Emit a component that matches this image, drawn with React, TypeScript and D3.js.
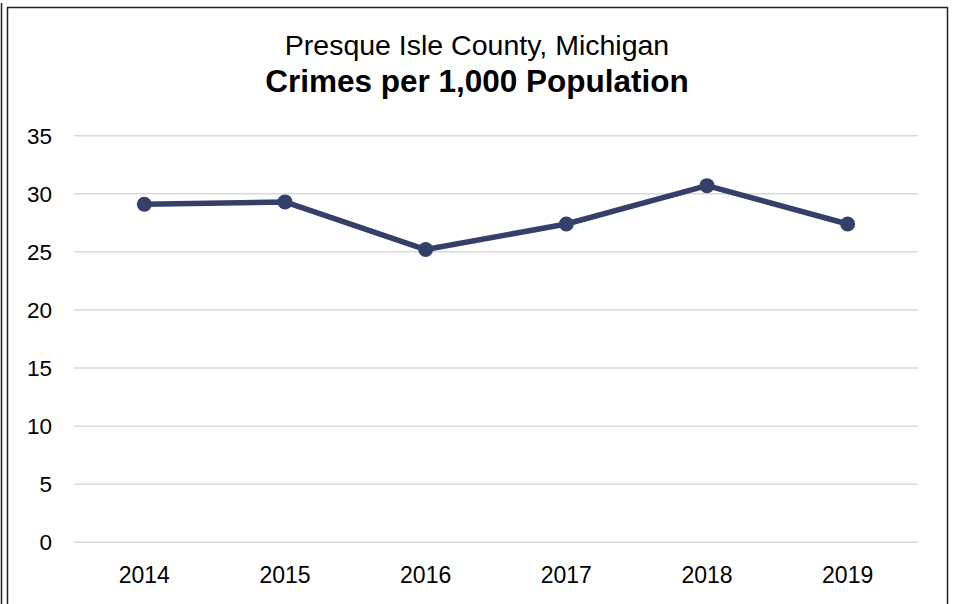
import React from "react";
import * as d3 from "d3";

const years = ["2014", "2015", "2016", "2017", "2018", "2019"];
const crimesPer1000 = [29.1, 29.3, 25.2, 27.4, 30.7, 27.4];
const yTicks = [0, 5, 10, 15, 20, 25, 30, 35];
const titleLine1 = "Presque Isle County, Michigan";
const titleLine2 = "Crimes per 1,000 Population";

const W = 955;
const H = 604;
const plot = { left: 74, right: 918, top: 135.7, bottom: 542.3 };
const lineColor = "#344069";
const font = "'Liberation Sans', Arial, sans-serif";

export default function App() {
  const x = d3.scaleBand<string>().domain(years).range([plot.left, plot.right]);
  const y = d3.scaleLinear().domain([0, 35]).range([plot.bottom, plot.top]);
  const cx = (d: string) => (x(d) as number) + x.bandwidth() / 2;
  const data = years.map((yr, i) => ({ yr, v: crimesPer1000[i] }));
  const line = d3
    .line<{ yr: string; v: number }>()
    .x((d) => cx(d.yr))
    .y((d) => y(d.v));

  return (
    <svg
      width={W}
      height={H}
      style={{ position: "absolute", left: 0, top: 0, background: "#fff" }}
      fontFamily={font}
    >
      <rect x={0} y={0} width={W} height={H} fill="#fff" />
      <line x1={1.5} x2={1.5} y1={3} y2={H} stroke="#222" strokeWidth={1.5} />
      <rect x={7.5} y={7.5} width={940} height={640} fill="none" stroke="#222" strokeWidth={1.5} />
      <text x={477} y={55} textAnchor="middle" fontSize={28.5} fill="#000">
        {titleLine1}
      </text>
      <text x={477} y={92} textAnchor="middle" fontSize={31.5} fontWeight="bold" fill="#000">
        {titleLine2}
      </text>
      {yTicks.map((t) => (
        <g key={t}>
          <line x1={plot.left} x2={plot.right} y1={y(t)} y2={y(t)} stroke="#d9d9d9" strokeWidth={1.5} />
          <text x={52} y={y(t)} dy="0.35em" textAnchor="end" fontSize={22.5} fill="#000">
            {t}
          </text>
        </g>
      ))}
      {years.map((yr) => (
        <text key={yr} x={cx(yr)} y={583} textAnchor="middle" fontSize={23} fill="#000">
          {yr}
        </text>
      ))}
      <path d={line(data) || ""} fill="none" stroke={lineColor} strokeWidth={5.5} strokeLinejoin="round" />
      {data.map((d) => (
        <circle key={d.yr} cx={cx(d.yr)} cy={y(d.v)} r={7.5} fill={lineColor} />
      ))}
    </svg>
  );
}
